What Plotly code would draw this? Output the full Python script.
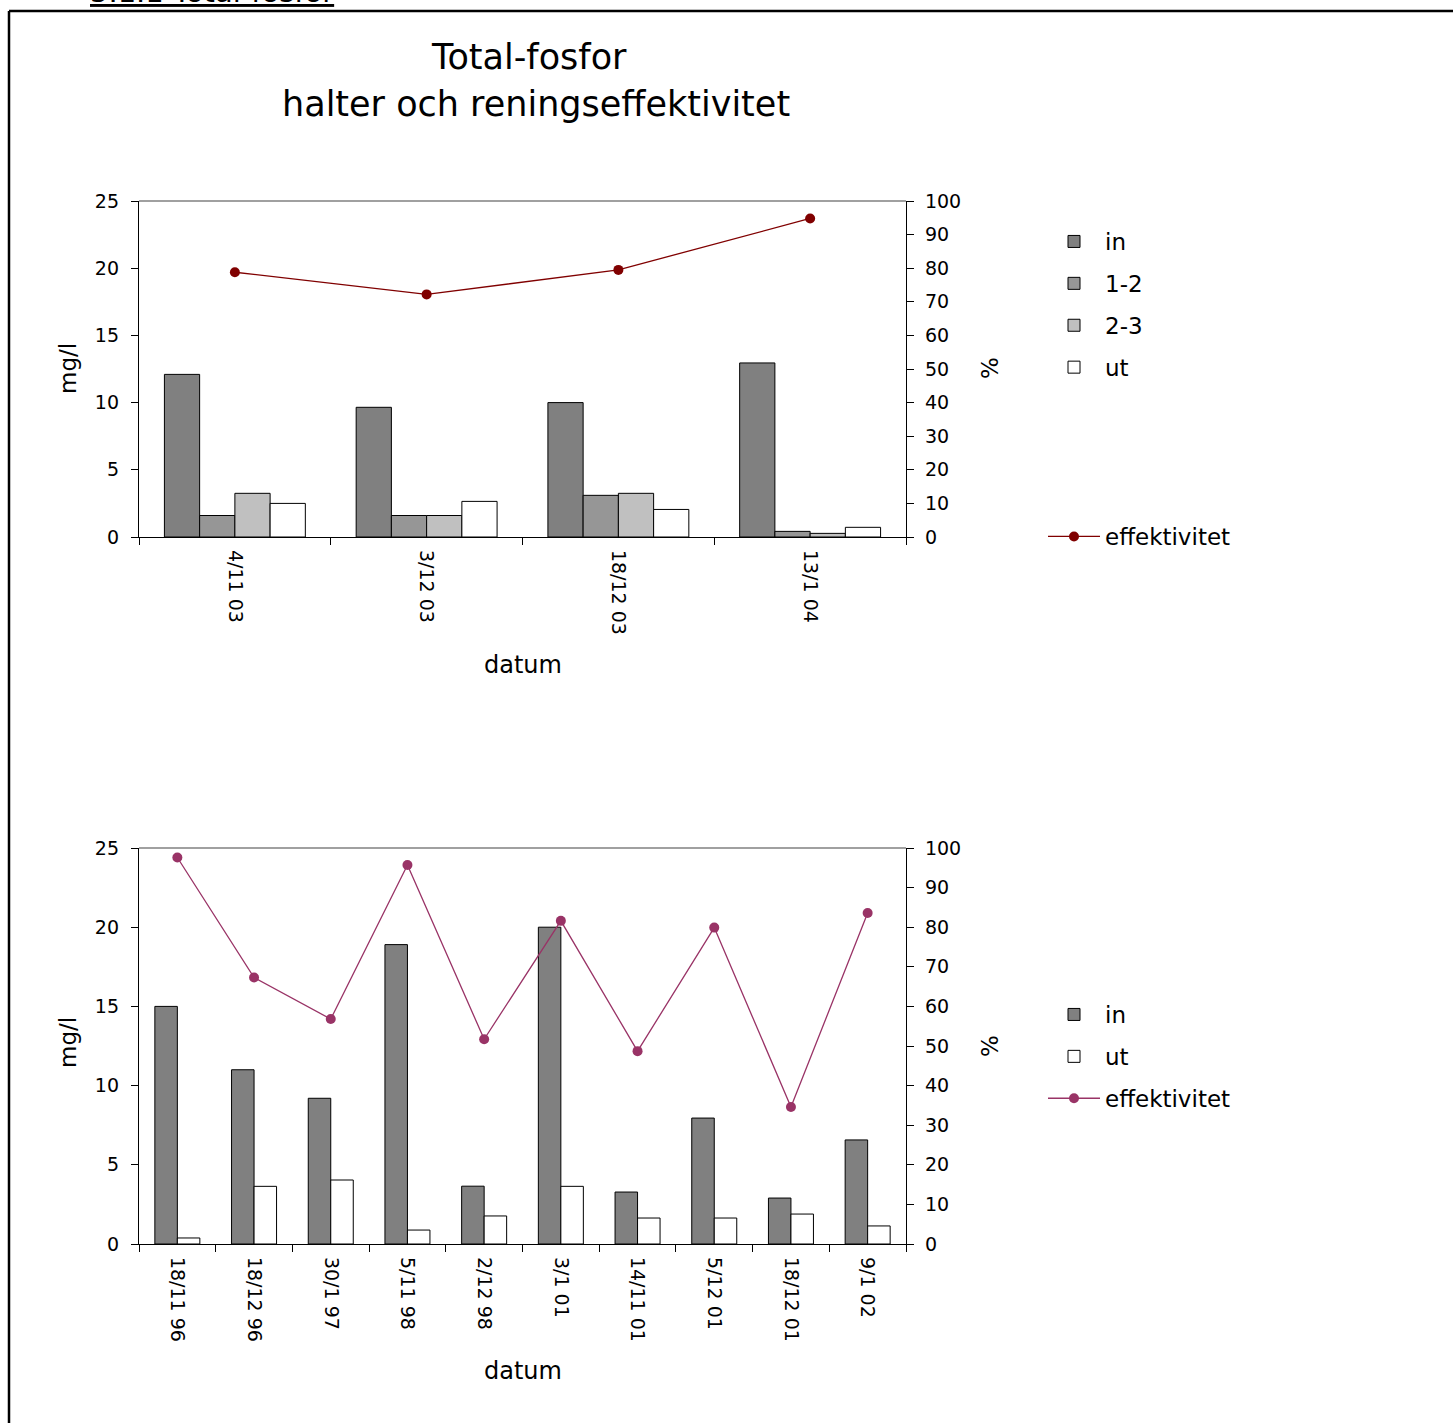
import plotly.graph_objects as go

# ---------------- data ----------------
top_dates = ["4/11 03", "3/12 03", "18/12 03", "13/1 04"]
top_in = [12.1, 9.65, 10.0, 12.95]
top_12 = [1.6, 1.6, 3.1, 0.42]
top_23 = [3.25, 1.6, 3.25, 0.27]
top_ut = [2.5, 2.65, 2.05, 0.72]
top_eff = [78.8, 72.2, 79.5, 94.8]

bot_dates = ["18/11 96", "18/12 96", "30/1 97", "5/11 98", "2/12 98",
             "3/1 01", "14/11 01", "5/12 01", "18/12 01", "9/1 02"]
bot_in = [15.0, 11.0, 9.2, 18.9, 3.65, 20.0, 3.28, 7.95, 2.9, 6.57]
bot_ut = [0.38, 3.64, 4.04, 0.88, 1.77, 3.64, 1.64, 1.64, 1.89, 1.14]
bot_eff = [97.6, 67.3, 56.8, 95.7, 51.7, 81.6, 48.7, 79.9, 34.6, 83.6]

left_ticks = [0, 5, 10, 15, 20, 25]
right_ticks = [0, 10, 20, 30, 40, 50, 60, 70, 80, 90, 100]

# ---------------- layout helpers ----------------
W, H = 1453, 1423
FONT = "DejaVu Sans"


def px(x):
    return x / W


def py(y):
    return 1 - y / H


C_IN = "#808080"
C_12 = "#969696"
C_23 = "#C0C0C0"
C_UT = "#FFFFFF"
C_EFF_TOP = "#800000"
C_EFF_BOT = "#993366"

fig = go.Figure()

# top chart bars: 4 per category
top_w = 0.18375
top_series = [("in", top_in, C_IN), ("1-2", top_12, C_12),
              ("2-3", top_23, C_23), ("ut", top_ut, C_UT)]
for i, (name, vals, col) in enumerate(top_series):
    fig.add_trace(go.Bar(
        x=top_dates, y=vals, name=name, xaxis="x", yaxis="y",
        width=top_w, offset=-2 * top_w + i * top_w,
        marker=dict(color=col, line=dict(color="black", width=1)),
        legend="legend", legendgroup="t" + name))

fig.add_trace(go.Scatter(
    x=top_dates, y=top_eff, name="effektivitet", xaxis="x", yaxis="y2",
    mode="lines+markers", line=dict(color=C_EFF_TOP, width=1.3),
    marker=dict(color=C_EFF_TOP, size=10), legend="legend2"))

# bottom chart bars: 2 per category
bot_w = 0.2934
bot_series = [("in", bot_in, C_IN), ("ut", bot_ut, C_UT)]
for i, (name, vals, col) in enumerate(bot_series):
    fig.add_trace(go.Bar(
        x=bot_dates, y=vals, name=name, xaxis="x2", yaxis="y3",
        width=bot_w, offset=-bot_w + i * bot_w,
        marker=dict(color=col, line=dict(color="black", width=1)),
        legend="legend3", legendgroup="b" + name))

fig.add_trace(go.Scatter(
    x=bot_dates, y=bot_eff, name="effektivitet", xaxis="x2", yaxis="y4",
    mode="lines+markers", line=dict(color=C_EFF_BOT, width=1.3),
    marker=dict(color=C_EFF_BOT, size=10), legend="legend3",
    legendgroup="beff"))

tickfont = dict(family=FONT, size=19, color="black")

xcommon = dict(type="category", showline=True, linecolor="black", linewidth=1.3,
               ticks="outside", ticklen=7, tickcolor="black", tickwidth=1.3,
               tickson="boundaries", tickangle=90, tickfont=tickfont,
               showgrid=False, zeroline=False, ticklabelstandoff=8,
               automargin=False)
yleft = dict(range=[0, 25], tickvals=left_ticks, showline=True,
             linecolor="black", linewidth=1.3, ticks="outside", ticklen=7,
             tickcolor="black", tickwidth=1.3, tickfont=tickfont,
             showgrid=False, zeroline=False, ticklabelstandoff=8,
             automargin=False)
yright = dict(range=[0, 100], tickvals=right_ticks, showline=True,
              linecolor="black", linewidth=1.3, ticks="outside", ticklen=7,
              tickcolor="black", tickwidth=1.3, tickfont=tickfont,
              showgrid=False, zeroline=False, side="right",
              ticklabelstandoff=7, automargin=False)

xd = [px(139), px(906)]
top_dom = [py(537), py(201)]
bot_dom = [py(1244), py(848)]

legfont = dict(family=FONT, size=23, color="black")

fig.update_layout(
    width=W, height=H, margin=dict(l=0, r=0, t=0, b=0, autoexpand=False),
    paper_bgcolor="white", plot_bgcolor="white",
    barmode="overlay", font=dict(family=FONT, color="black"),
    xaxis=dict(xcommon, domain=xd, anchor="y",
               range=[-0.5, len(top_dates) - 0.5]),
    yaxis=dict(yleft, domain=top_dom, anchor="x"),
    yaxis2=dict(yright, overlaying="y", anchor="x"),
    xaxis2=dict(xcommon, domain=xd, anchor="y3",
                range=[-0.5, len(bot_dates) - 0.5]),
    yaxis3=dict(yleft, domain=bot_dom, anchor="x2"),
    yaxis4=dict(yright, overlaying="y3", anchor="x2"),
    legend=dict(x=px(1043), y=py(220), xanchor="left", yanchor="top",
                font=legfont, itemwidth=52, traceorder="grouped",
                tracegroupgap=9, bgcolor="rgba(0,0,0,0)"),
    legend2=dict(x=px(1043), y=py(515), xanchor="left", yanchor="top",
                 font=legfont, itemwidth=52, bgcolor="rgba(0,0,0,0)"),
    legend3=dict(x=px(1043), y=py(993), xanchor="left", yanchor="top",
                 font=legfont, itemwidth=52, traceorder="grouped",
                 tracegroupgap=9, bgcolor="rgba(0,0,0,0)"),
    showlegend=True,
)

# plot-area top borders (grey)
for xr, yr in [("x domain", "y domain"), ("x2 domain", "y3 domain")]:
    fig.add_shape(type="line", xref=xr, yref=yr, x0=0, x1=1, y0=1, y1=1,
                  line=dict(color="#808080", width=1.3))

# outer page frame
fig.add_shape(type="line", xref="paper", yref="paper", x0=px(9), x1=px(9),
              y0=0, y1=py(11), line=dict(color="black", width=2.5))
fig.add_shape(type="line", xref="paper", yref="paper", x0=px(9), x1=1,
              y0=py(11), y1=py(11), line=dict(color="black", width=2.5))

ann = []
ann.append(dict(text="<u>5.1.1 Total-fosfor</u>", x=px(88), y=py(11),
                xanchor="left", yanchor="bottom",
                font=dict(family=FONT, size=29, color="black")))
ann.append(dict(text="Total-fosfor", x=px(529), y=py(57),
                font=dict(family=FONT, size=35, color="black")))
ann.append(dict(text="halter och reningseffektivitet", x=px(536), y=py(104),
                font=dict(family=FONT, size=35, color="black")))
for yc_mg, yc_pct, y_dat in [(369, 368, 665), (1043, 1046, 1371)]:
    ann.append(dict(text="mg/l", x=px(68), y=py(yc_mg), textangle=-90,
                    font=dict(family=FONT, size=23, color="black")))
    ann.append(dict(text="%", x=px(990), y=py(yc_pct), textangle=-90,
                    font=dict(family=FONT, size=23, color="black")))
    ann.append(dict(text="datum", x=px(523), y=py(y_dat),
                    font=dict(family=FONT, size=24, color="black")))
for a in ann:
    a.setdefault("xanchor", "center")
    a.setdefault("yanchor", "middle")
    a.update(xref="paper", yref="paper", showarrow=False)
fig.update_layout(annotations=ann)

fig.write_html("out.html", config={"displayModeBar": False},
               post_script="document.body.style.margin='0px';")
